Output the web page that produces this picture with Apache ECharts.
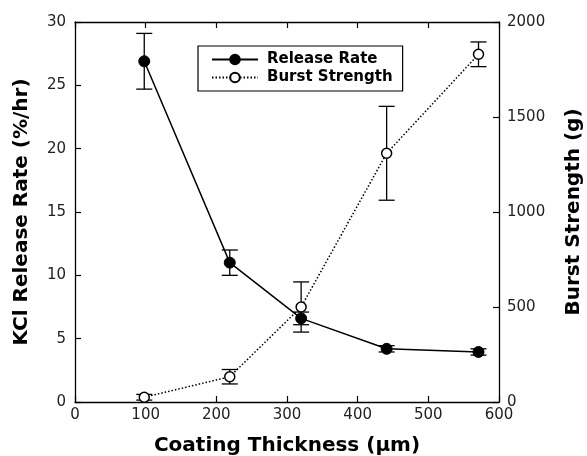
<!DOCTYPE html>
<html><head><meta charset="utf-8">
<script src="https://cdn.jsdelivr.net/npm/echarts@6/dist/echarts.min.js"></script>
<style>html,body{margin:0;padding:0;background:#fff}#c{width:587px;height:456px}</style>
</head><body><div id="c"></div>
<script>
var thickness = [98, 219, 320, 441, 571];
var releaseRate = [26.9, 11.0, 6.6, 4.2, 3.95];
var releaseErr = [2.2, 1.0, 0.5, 0.25, 0.25];
var burstStrength = [25, 133, 500, 1309, 1830];
var burstErr = [15, 38, 132, 247, 65];
var xTicks = [0, 100, 200, 300, 400, 500, 600];

var chart = echarts.init(document.getElementById('c'));
function pairs(ys){ return thickness.map(function(x,i){return [x, ys[i]];}); }
function errData(ys, es){ return thickness.map(function(x,i){return [x, ys[i]-es[i], ys[i]+es[i]];}); }
function errRender(params, api){
  var lo = api.coord([api.value(0), api.value(1)]);
  var hi = api.coord([api.value(0), api.value(2)]);
  var w = 8;
  var st = {stroke:'#000', lineWidth:1.3};
  return {type:'group', children:[
    {type:'line', shape:{x1:lo[0],y1:lo[1],x2:hi[0],y2:hi[1]}, style:st},
    {type:'line', shape:{x1:lo[0]-w,y1:lo[1],x2:lo[0]+w,y2:lo[1]}, style:st},
    {type:'line', shape:{x1:hi[0]-w,y1:hi[1],x2:hi[0]+w,y2:hi[1]}, style:st}
  ]};
}
var tickFont = {fontFamily:'DejaVu Sans', fontSize:15, color:'#222'};
var titleFont = {fontFamily:'DejaVu Sans', fontWeight:'bold', fontSize:20, color:'#000'};
var axLine = {show:true, onZero:false, lineStyle:{color:'#000', width:1.3}};
var tick = {show:true, inside:true, length:6, lineStyle:{color:'#000', width:1.2}};
function plain(v){ return String(v); }
chart.setOption({
  animation:false,
  grid:{left:75, right:88, top:22, bottom:54, containLabel:false, outerBoundsMode:'none'},
  legend:{
    data:[{name:'Release Rate'},{name:'Burst Strength'}],
    orient:'vertical', left:198, top:46, width:205,
    backgroundColor:'#fff', borderColor:'#000', borderWidth:1.2, borderRadius:0,
    padding:[6,10,6,13], itemGap:3, itemWidth:46, itemHeight:12,
    textStyle:{fontFamily:'DejaVu Sans', fontWeight:'bold', fontSize:15, color:'#000', padding:[0,0,0,4]}
  },
  xAxis:[{
    type:'value', min:0, max:600, interval:100, position:'bottom',
    name:'Coating Thickness (\u03bcm)', nameLocation:'middle', nameGap:34, nameTextStyle:titleFont,
    axisLine:axLine, axisTick:tick, splitLine:{show:false},
    axisLabel:Object.assign({margin:6, formatter:function(v){return xTicks.indexOf(v)>=0?String(v):'';}}, tickFont)
  },{
    type:'value', min:0, max:600, interval:100, position:'top',
    axisLine:axLine, axisTick:tick, splitLine:{show:false}, axisLabel:{show:false}
  }],
  yAxis:[{
    type:'value', min:0, max:30, interval:5, position:'left',
    name:'KCl Release Rate (%/hr)', nameLocation:'middle', nameGap:43, nameTextStyle:titleFont,
    axisLine:axLine, axisTick:tick, splitLine:{show:false},
    axisLabel:Object.assign({margin:9, formatter:plain}, tickFont)
  },{
    type:'value', min:0, max:2000, interval:500, position:'right',
    name:'Burst Strength (g)', nameLocation:'middle', nameGap:65, nameTextStyle:titleFont,
    axisLine:axLine, axisTick:tick, splitLine:{show:false},
    axisLabel:Object.assign({margin:8, formatter:plain}, tickFont)
  }],
  series:[
    {name:'Release Rate', type:'line', xAxisIndex:0, yAxisIndex:0, data:pairs(releaseRate),
     symbol:'circle', symbolSize:11, lineStyle:{color:'#000', width:1.5, type:'solid'},
     itemStyle:{color:'#000', borderColor:'#000', borderWidth:1}, z:3},
    {name:'Burst Strength', type:'line', xAxisIndex:0, yAxisIndex:1, data:pairs(burstStrength),
     symbol:'circle', symbolSize:10, lineStyle:{color:'#000', width:1.5, type:[1.5,2]},
     itemStyle:{color:'#fff', borderColor:'#000', borderWidth:1.5}, z:4},
    {name:'releaseErr', type:'custom', xAxisIndex:0, yAxisIndex:0, data:errData(releaseRate, releaseErr),
     renderItem:errRender, encode:{x:0, y:[1,2]}, z:2, silent:true},
    {name:'burstErr', type:'custom', xAxisIndex:0, yAxisIndex:1, data:errData(burstStrength, burstErr),
     renderItem:errRender, encode:{x:0, y:[1,2]}, z:2, silent:true}
  ]
});
</script></body></html>
